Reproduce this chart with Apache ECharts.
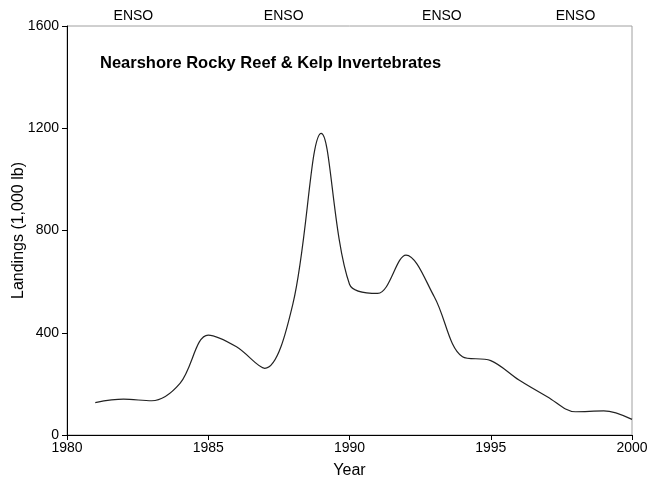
<!DOCTYPE html>
<html>
<head>
<meta charset="utf-8">
<script src="https://cdn.jsdelivr.net/npm/echarts@6/dist/echarts.min.js"></script>
<style>
  html, body { margin: 0; padding: 0; background: #fff; }
  #chart { width: 648px; height: 481px; }
</style>
</head>
<body>
<div id="chart"></div>
<script>
// landings by year (1,000 lb)
const years = [1981, 1982, 1983, 1984, 1985, 1986, 1987, 1988, 1989, 1990,
  1991, 1992, 1993, 1994, 1995, 1996, 1997, 1998, 1999, 2000]
const landings = [127, 140, 134, 202, 391, 345, 261, 515, 1180, 590,
  554, 704, 541, 306, 291, 215, 150, 91, 94, 61]
// ENSO marker positions along the top
const ensoYears = [1982.35, 1987.67, 1993.27, 1998]
const yTicks = [0, 400, 800, 1200, 1600]

const font = 'Liberation Sans, Arial, sans-serif'
const chart = echarts.init(document.getElementById('chart'))

chart.setOption({
  animation: false,
  title: {
    text: 'Nearshore Rocky Reef & Kelp Invertebrates',
    left: 95,
    top: 50,
    textStyle: { fontFamily: font, fontSize: 16.5, fontWeight: 'bold', color: '#000' }
  },
  grid: {
    left: 67, right: 16, top: 26, bottom: 46,
    outerBoundsMode: 'none',
    show: true, borderColor: '#a0a0a0', borderWidth: 1
  },
  xAxis: [
    {
      type: 'value',
      min: 1980,
      max: 2000,
      interval: 5,
      name: 'Year',
      nameLocation: 'middle',
      nameGap: 28,
      nameTextStyle: { fontFamily: font, fontSize: 16, color: '#000' },
      axisLine: { lineStyle: { color: '#000' } },
      axisTick: { inside: false, length: 5, lineStyle: { color: '#000' } },
      axisLabel: {
        fontFamily: font, fontSize: 14, color: '#000', margin: 6,
        formatter: v => String(v)
      },
      splitLine: { show: false }
    },
    {
      type: 'value',
      position: 'top',
      min: 1980,
      max: 2000,
      axisLine: { show: false },
      axisTick: { show: false },
      splitLine: { show: false },
      axisLabel: {
        customValues: ensoYears,
        formatter: () => 'ENSO',
        fontFamily: font, fontSize: 14, color: '#000', margin: 3
      }
    }
  ],
  yAxis: {
    type: 'value',
    min: 0,
    max: 1600,
    interval: 400,
    name: 'Landings (1,000 lb)',
    nameLocation: 'middle',
    nameGap: 40,
    nameMoveOverlap: false,
    nameTextStyle: { fontFamily: font, fontSize: 16, color: '#000' },
    axisLine: { show: true, lineStyle: { color: '#000' } },
    axisTick: { show: true, length: 5, lineStyle: { color: '#000' } },
    axisLabel: {
      fontFamily: font, fontSize: 14, color: '#000', margin: 8,
      customValues: yTicks,
      formatter: v => String(v)
    },
    splitLine: { show: false }
  },
  series: [
    {
      type: 'line',
      data: years.map((y, i) => [y, landings[i]]),
      smooth: 0.35,
      showSymbol: false,
      lineStyle: { color: '#222', width: 1.2 }
    }
  ]
})
</script>
</body>
</html>
